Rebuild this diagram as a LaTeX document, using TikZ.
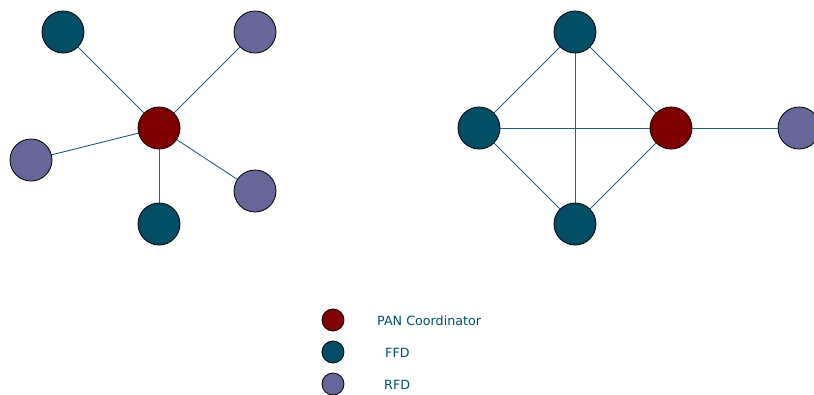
\documentclass[tikz,border=0pt]{standalone}
\usepackage{fontspec}
\setmainfont{DejaVu Sans}
\definecolor{pancol}{RGB}{128,0,0}
\definecolor{ffdcol}{RGB}{2,78,102}
\definecolor{rfdcol}{RGB}{102,102,153}
\definecolor{linkcol}{RGB}{30,100,130}
\definecolor{txtcol}{RGB}{0,80,102}
\begin{document}
\begin{tikzpicture}[x=1pt,y=-1pt,
  dev/.style={circle,draw=black,line width=0.8pt,minimum size=42pt,inner sep=0pt},
  pan/.style={dev,fill=pancol},
  ffd/.style={dev,fill=ffdcol},
  rfd/.style={dev,fill=rfdcol},
  lpan/.style={pan,minimum size=22pt},
  lffd/.style={ffd,minimum size=22pt},
  lrfd/.style={rfd,minimum size=22pt},
  link/.style={draw=linkcol,line width=0.9pt},
  lbl/.style={text=txtcol,font=\fontsize{12.7}{14}\selectfont,anchor=west,inner sep=0pt}]
\useasboundingbox (0,0) rectangle (814,394);
% star
\node[pan] (sc) at (159,128) {};
\node[ffd] (stl) at (63,32) {};
\node[rfd] (str) at (255,32) {};
\node[rfd] (sl) at (31,160) {};
\node[ffd] (sb) at (159,224) {};
\node[rfd] (sr) at (255,191) {};
\begin{scope}[on background layer/.try]
\end{scope}
% mesh
\node[ffd] (mt) at (575,32) {};
\node[ffd] (ml) at (479,128) {};
\node[pan] (mp) at (671,128) {};
\node[ffd] (mb) at (575,224) {};
\node[rfd] (mr) at (799,128) {};
% links
\draw[link] (sc) -- (stl);
\draw[link] (sc) -- (str);
\draw[link] (sc) -- (sl);
\draw[link] (sc) -- (sb);
\draw[link] (sc) -- (sr);
\draw[link] (mt) -- (ml);
\draw[link] (mt) -- (mp);
\draw[link] (mt) -- (mb);
\draw[link] (ml) -- (mp);
\draw[link] (ml) -- (mb);
\draw[link] (mb) -- (mp);
\draw[link] (mp) -- (mr);
% legend
\node[lpan] (k1) at (333,320) {};
\node[lffd] (k2) at (333,352) {};
\node[lrfd] (k3) at (333,384) {};
\node[lbl] (t1) at (377,320.5) {PAN Coordinator};
\node[lbl] (t2) at (385,352.5) {FFD};
\node[lbl] (t3) at (384,384.5) {RFD};
\end{tikzpicture}
\end{document}
